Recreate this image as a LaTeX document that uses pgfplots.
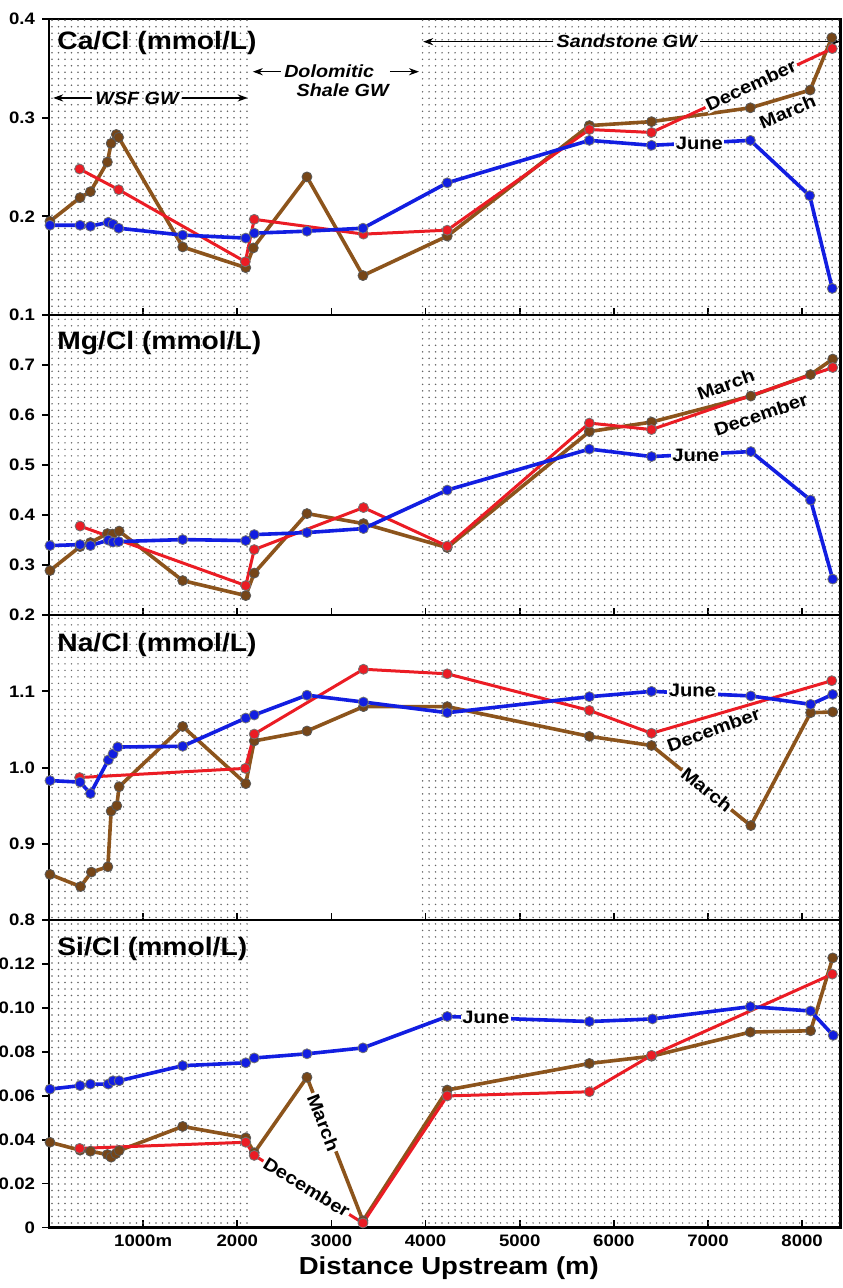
\documentclass[border=0pt]{standalone}
\usepackage{fontspec}
\setmainfont{Liberation Sans}[FakeStretch=1.12]
\usepackage{pgfplots}
\pgfplotsset{compat=1.18}
\usetikzlibrary{patterns.meta,arrows.meta}

\definecolor{junec}{RGB}{18,30,225}
\definecolor{decc}{RGB}{235,28,36}
\definecolor{marc}{RGB}{140,84,28}
\definecolor{marcfill}{RGB}{118,70,24}
\definecolor{stip}{RGB}{100,100,100}

% sparse stipple used for the shaded aquifer zones
\tikzdeclarepattern{
  name=sdots,
  type=uncolored,
  bottom left={(-0.6pt,-0.6pt)},
  top right={(0.6pt,0.6pt)},
  tile size={(3.25pt,3.25pt)},
  code={\fill (0pt,0pt) circle (0.42pt);}
}

\pgfplotsset{
  panel/.style={
    scale only axis, width=395.8pt, xmin=0, xmax=8410,
    axis line style={line width=1.3pt},
    xtick={1000,2000,3000,4000,5000,6000,7000,8000},
    xtick pos=left, ytick pos=left,
    xtick align=inside, ytick align=outside,
    major tick length=3.5pt,
    tick style={line width=0.9pt, black},
    xticklabels={},
    clip=false,
    ticklabel style={font=\bfseries\fontsize{8.3}{9}\selectfont},
    /pgf/number format/assume math mode=true,
  },
  june/.style={color=junec, line width=1.8pt, line join=round, mark=*, mark size=2.5pt,
    mark options={fill=junec, draw=black!55, line width=0.4pt}},
  dec/.style={color=decc, line width=1.5pt, line join=round, mark=*, mark size=2.5pt,
    mark options={fill=decc, draw=black!55, line width=0.4pt}},
  mar/.style={color=marc, line width=1.8pt, line join=round, mark=*, mark size=2.5pt,
    mark options={fill=marcfill, draw=black!65, line width=0.4pt}},
}
\tikzset{
  ttl/.style={anchor=north west, inner sep=0pt, font=\bfseries\fontsize{12.6}{14}\selectfont},
  ann/.style={inner sep=1.5pt, font=\bfseries\itshape\fontsize{8.8}{10}\selectfont},
  arr/.style={line width=0.6pt, -{Stealth[length=5pt,width=3.6pt]}},
  lab/.style={inner sep=0.8pt, font=\bfseries\fontsize{9}{10}\selectfont},
  gapw/.style={fill=white},
  gapd/.style={preaction={fill=white}, pattern=sdots, pattern color=stip},
  stipple/.style={pattern=sdots, pattern color=stip},
}

\begin{document}
\begin{tikzpicture}

% ---------- Ca/Cl ----------
\begin{axis}[panel, name=p1, height=148pt, ymin=0.1, ymax=0.4,
  ytick={0.1,0.2,0.3,0.4}, yticklabels={0.1,0.2,0.3,0.4}]
\fill[stipple] (axis cs:0,0.1) rectangle (axis cs:2130,0.4);
\fill[stipple] (axis cs:3960,0.1) rectangle (axis cs:8410,0.4);
\addplot[mar] coordinates {(10,0.195) (330,0.219) (440,0.225) (620,0.255) (660,0.274) (715,0.283) (740,0.280) (1420,0.169) (2090,0.148) (2170,0.168) (2740,0.240) (3335,0.140) (4230,0.180) (5740,0.292) (6400,0.296) (7450,0.310) (8085,0.328) (8315,0.381)};
\addplot[dec] coordinates {(325,0.248) (740,0.227) (2085,0.154) (2180,0.197) (3340,0.182) (4230,0.186) (5740,0.288) (6400,0.285) (8320,0.370)};
\addplot[june] coordinates {(10,0.191) (330,0.191) (440,0.190) (630,0.194) (680,0.192) (740,0.188) (1420,0.181) (2090,0.178) (2180,0.183) (2740,0.185) (3335,0.188) (4230,0.234) (5740,0.277) (6400,0.272) (7450,0.277) (8080,0.221) (8320,0.127)};
\node[ttl] at ([xshift=4pt,yshift=-6pt]rel axis cs:0,1) {Ca/Cl (mmol/L)};
% aquifer zones
\node[ann] (wsf) at (axis cs:935,0.320) {WSF GW};
\draw[arr] (wsf.west) -- (axis cs:45,0.320);
\draw[arr] (wsf.east) -- (axis cs:2110,0.320);
\node[ann] (dol) at (axis cs:2976,0.3466) {Dolomitic};
\draw[arr] (dol.west) -- (axis cs:2165,0.3466);
\draw[arr] (axis cs:3620,0.3466) -- (axis cs:3930,0.3466);
\node[ann] at (axis cs:3119,0.328) {Shale GW};
\node[ann] (sand) at (axis cs:6138,0.377) {Sandstone GW};
\draw[arr] (sand.west) -- (axis cs:3975,0.377);
\draw[arr] (sand.east) -- (axis cs:8405,0.377);
% series names
\node[lab, gapd, rotate=25] at (axis cs:7455,0.333) {December};
\node[lab, rotate=23] at (axis cs:7844,0.306) {March};
\node[lab, gapd] at (axis cs:6908,0.274) {June};
\end{axis}

% ---------- Mg/Cl ----------
\begin{axis}[panel, name=p2, at={(p1.south west)}, anchor=north west,
  height=150pt, ymin=0.2, ymax=0.8,
  ytick={0.2,0.3,0.4,0.5,0.6,0.7}, yticklabels={0.2,0.3,0.4,0.5,0.6,0.7}]
\fill[stipple] (axis cs:0,0.2) rectangle (axis cs:2130,0.8);
\fill[stipple] (axis cs:3960,0.2) rectangle (axis cs:8410,0.8);
\addplot[mar] coordinates {(10,0.289) (330,0.337) (440,0.345) (620,0.363) (675,0.362) (745,0.368) (1420,0.269) (2090,0.239) (2180,0.284) (2740,0.403) (3340,0.383) (4230,0.335) (5740,0.567) (6400,0.586) (7455,0.638) (8090,0.681) (8325,0.712)};
\addplot[dec] coordinates {(330,0.378) (2090,0.259) (2180,0.331) (3340,0.415) (4230,0.338) (5740,0.584) (6400,0.571) (8325,0.695)};
\addplot[june] coordinates {(10,0.339) (330,0.341) (440,0.339) (630,0.350) (680,0.346) (740,0.347) (1420,0.351) (2090,0.349) (2180,0.361) (2740,0.365) (3340,0.373) (4230,0.450) (5740,0.532) (6400,0.517) (7455,0.527) (8090,0.430) (8325,0.272)};
\node[ttl] at ([xshift=4pt,yshift=-8pt]rel axis cs:0,1) {Mg/Cl (mmol/L)};
\node[lab, rotate=20] at (axis cs:7189,0.661) {March};
\node[lab, rotate=19] at (axis cs:7561,0.601) {December};
\node[lab, gapd] at (axis cs:6871,0.519) {June};
\end{axis}

% ---------- Na/Cl ----------
\begin{axis}[panel, name=p3, at={(p2.south west)}, anchor=north west,
  height=152.5pt, ymin=0.8, ymax=1.2,
  ytick={0.8,0.9,1.0,1.1}, yticklabels={0.8,0.9,1.0,1.1}]
\fill[stipple] (axis cs:0,0.8) rectangle (axis cs:2130,1.2);
\fill[stipple] (axis cs:3960,0.8) rectangle (axis cs:8410,1.2);
\addplot[mar] coordinates {(10,0.860) (335,0.844) (450,0.863) (625,0.870) (660,0.943) (720,0.950) (745,0.975) (1420,1.054) (2090,0.979) (2180,1.035) (2740,1.048) (3340,1.080) (4230,1.080) (5740,1.041) (6400,1.029) (7455,0.924) (8090,1.072) (8325,1.073)};
\addplot[dec] coordinates {(325,0.987) (2085,0.999) (2180,1.044) (3340,1.129) (4230,1.123) (5740,1.075) (6400,1.045) (8315,1.114)};
\addplot[june] coordinates {(10,0.983) (330,0.981) (440,0.966) (630,1.010) (680,1.018) (730,1.027) (1420,1.028) (2090,1.065) (2180,1.069) (2740,1.095) (3340,1.086) (4230,1.072) (5740,1.093) (6400,1.100) (7455,1.094) (8090,1.083) (8325,1.096)};
\node[ttl] at ([xshift=4pt,yshift=-9pt]rel axis cs:0,1) {Na/Cl (mmol/L)};
\node[lab, gapd] at (axis cs:6834,1.101) {June};
\node[lab, rotate=20] at (axis cs:7058,1.050) {December};
\node[lab, gapd, rotate=-38.7] at (axis cs:6987,0.971) {March};
\end{axis}

% ---------- Si/Cl ----------
\begin{axis}[panel, name=p4, at={(p3.south west)}, anchor=north west,
  height=153.6pt, ymin=0, ymax=0.14,
  ytick={0,0.02,0.04,0.06,0.08,0.10,0.12},
  yticklabels={0,0.02,0.04,0.06,0.08,0.10,0.12},
  xticklabels={1000m,2000,3000,4000,5000,6000,7000,8000}]
\fill[stipple] (axis cs:0,0) rectangle (axis cs:2130,0.14);
\fill[stipple] (axis cs:3960,0) rectangle (axis cs:8410,0.14);
\addplot[mar] coordinates {(10,0.0388) (330,0.0352) (440,0.0347) (620,0.0332) (660,0.0320) (710,0.0336) (745,0.0350) (1420,0.0460) (2090,0.0408) (2180,0.0340) (2740,0.0684) (3335,0.0030) (4230,0.0626) (5740,0.0747) (6400,0.0780) (7450,0.0890) (8090,0.0896) (8325,0.1228)};
\addplot[dec] coordinates {(325,0.0360) (2090,0.0388) (2180,0.0328) (3335,0.0020) (4230,0.0599) (5740,0.0618) (6400,0.0784) (8320,0.1154)};
\addplot[june] coordinates {(10,0.0630) (330,0.0646) (440,0.0653) (630,0.0653) (680,0.0668) (745,0.0668) (1420,0.0737) (2090,0.0750) (2180,0.0772) (2740,0.0791) (3335,0.0818) (4230,0.0961) (5740,0.0938) (6410,0.0950) (7450,0.1006) (8090,0.0986) (8330,0.0875)};
\node[ttl] at ([xshift=4pt,yshift=-8.5pt]rel axis cs:0,1) {Si/Cl (mmol/L)};
\node[lab, gapd] at (axis cs:4640,0.0956) {June};
\node[lab, gapw, rotate=-68.7] at (axis cs:2915,0.0478) {March};
\node[lab, gapw, rotate=-31.5] at (axis cs:2738,0.0184) {December};
\end{axis}

\node[font=\bfseries\fontsize{12.3}{14}\selectfont] at ([xshift=2pt,yshift=-20.5pt]p4.south) {Distance Upstream (m)};

\pgfresetboundingbox
\path[use as bounding box] ([xshift=-24.5pt,yshift=9.5pt]p1.north west) rectangle ([xshift=0.7pt,yshift=-30.3pt]p4.south east);
\end{tikzpicture}
\end{document}
